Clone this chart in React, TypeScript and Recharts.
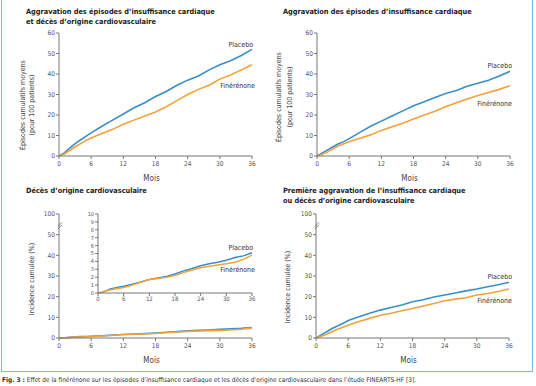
import React from "react";
import { LineChart, Line, XAxis, YAxis, ReferenceDot, LabelList } from "recharts";

const F = '"DejaVu Sans Condensed", "Liberation Sans Narrow", Roboto, sans-serif';
const BLUE = "#3a8ec8";
const ORANGE = "#f2a23a";
const AXIS = "#777";

// mois de suivi
const months = [0, 1, 2, 3, 4, 5, 6, 8, 10, 12, 14, 16, 18, 20, 22, 24, 26, 28, 30, 32, 34, 36];
const xTicks = [0, 6, 12, 18, 24, 30, 36];

// Aggravation des épisodes d'IC + décès CV (épisodes / 100 patients)
const combPlacebo = [0, 1.5, 3.8, 6, 7.8, 9.6, 11.3, 14.5, 17.5, 20.5, 23.5, 26, 29, 31.5, 34.5, 37, 39, 42, 44.5, 46.5, 49, 52];
const combFin = [0, 1, 2.8, 4.5, 6, 7.5, 8.8, 11, 13, 15.5, 17.5, 19.5, 21.5, 24, 27, 30, 32.5, 34.5, 37.5, 39.5, 42, 44.5];

// Aggravation des épisodes d'IC
const hfPlacebo = [0, 1.5, 3, 4.5, 6, 7, 8.5, 11.5, 14.5, 17, 19.5, 22, 24.5, 26.5, 28.5, 30.5, 32, 34, 35.5, 37, 39, 41.3];
const hfFin = [0, 0.8, 2, 3.5, 5, 6, 7, 8.7, 10.3, 12.5, 14.3, 16, 18, 20, 21.8, 24, 26, 27.8, 29.5, 31, 32.5, 34.3];

// Décès d'origine CV (%)
const cvPlacebo = [0, 0.1, 0.3, 0.55, 0.65, 0.75, 0.85, 1.1, 1.4, 1.7, 1.9, 2.1, 2.4, 2.8, 3.1, 3.45, 3.7, 3.9, 4.15, 4.5, 4.7, 5.1];
const cvFin = [0, 0.1, 0.25, 0.4, 0.5, 0.6, 0.7, 1.0, 1.35, 1.7, 1.85, 2.0, 2.2, 2.6, 2.9, 3.2, 3.4, 3.55, 3.7, 3.9, 4.25, 4.8];

// Première aggravation de l'IC ou décès CV (%)
const firstPlacebo = [0, 1.5, 3, 4.6, 5.8, 7, 8.5, 10.3, 12, 13.5, 14.8, 16, 17.5, 18.5, 19.8, 20.8, 21.8, 22.8, 23.7, 24.8, 25.8, 27];
const firstFin = [0, 0.8, 1.8, 3, 4.2, 5.2, 6.2, 8, 9.5, 11, 12, 13.2, 14.3, 15.5, 16.7, 18, 18.8, 19.5, 20.8, 21.5, 22.5, 23.7];

const ticks60 = [0, 10, 20, 30, 40, 50, 60];
const ticks10 = [0, 1, 2, 3, 4, 5, 6, 7, 8, 9, 10];

const rows = (p: number[], f: number[]) => months.map((m, i) => ({ m, placebo: p[i], fin: f[i] }));

const YTitle = (props: any) => {
  const { lines, xs, cy } = props;
  return (
    <g>
      {lines.map((l: string, i: number) => (
        <text
          key={i}
          x={xs[i]}
          y={cy}
          transform={`rotate(-90 ${xs[i]} ${cy})`}
          textAnchor="middle"
          dominantBaseline="middle"
          fill="#444"
          fontSize={7}
          fontFamily={F}
        >
          {l}
        </text>
      ))}
    </g>
  );
};

const XTitle = (props: any) => {
  const vb = props.viewBox || {};
  return (
    <text
      x={vb.x + vb.width / 2 - 4}
      y={vb.y + 22}
      textAnchor="middle"
      dominantBaseline="middle"
      fill="#444"
      fontSize={8}
      fontFamily={F}
    >
      Mois
    </text>
  );
};

const EndLabel = (text: string, last: number, dx: number, dy: number) => (props: any) => {
  if (props.index !== last) return null;
  return (
    <text
      x={props.x + dx}
      y={props.y + dy}
      textAnchor="end"
      dominantBaseline="middle"
      fill="#333"
      fontSize={7}
      fontFamily={F}
    >
      {text}
    </text>
  );
};

const BreakMark = (props: any) => {
  const { cx, cy } = props;
  return (
    <g stroke="#666" strokeWidth={0.8}>
      <line x1={cx - 1} y1={cy + 2} x2={cx + 3} y2={cy - 2} />
      <line x1={cx - 1} y1={cy + 4.5} x2={cx + 3} y2={cy + 0.5} />
    </g>
  );
};

const tickFmt100 = (v: number) => (v === 60 ? "100" : String(v));

type PanelProps = {
  left: number;
  top: number;
  height: number;
  data: { m: number; placebo: number; fin: number }[];
  yTitle: string[];
  yTitleXs: number[];
  yTitleY: number;
  broken?: boolean;
  labels?: number[];
};

const last = months.length - 1;

function Panel({ left, top, height, data, yTitle, yTitleXs, yTitleY, broken, labels }: PanelProps) {
  return (
    <div style={{ position: "absolute", left, top }}>
      <LineChart width={270} height={height} data={data} margin={{ top: 33, right: 18, bottom: 0, left: 0 }}>
        <XAxis
          dataKey="m"
          type="number"
          domain={[0, 36]}
          ticks={xTicks}
          height={34}
          tickSize={3}
          tickMargin={2}
          axisLine={{ stroke: AXIS }}
          tickLine={{ stroke: AXIS }}
          tick={{ fill: "#555", fontSize: 6.5, fontFamily: F }}
          label={<XTitle />}
        />
        <YAxis
          type="number"
          domain={[0, 60]}
          ticks={ticks60}
          width={59}
          interval={0}
          tickSize={3}
          tickMargin={1}
          tickFormatter={broken ? tickFmt100 : undefined}
          axisLine={{ stroke: AXIS }}
          tickLine={{ stroke: AXIS }}
          tick={{ fill: "#555", fontSize: 6.5, fontFamily: F }}
        />
        <Line type="linear" dataKey="placebo" stroke={BLUE} strokeWidth={1.6} dot={false} isAnimationActive={false}>
          {labels && <LabelList dataKey="placebo" content={EndLabel("Placebo", last, labels[0], labels[1])} />}
        </Line>
        <Line type="linear" dataKey="fin" stroke={ORANGE} strokeWidth={1.6} dot={false} isAnimationActive={false}>
          {labels && <LabelList dataKey="fin" content={EndLabel("Finérénone", last, labels[2], labels[3])} />}
        </Line>
        {broken && <ReferenceDot x={0} y={55} r={0} ifOverflow="visible" shape={<BreakMark />} />}
        <YTitle lines={yTitle} xs={yTitleXs} cy={yTitleY} />
      </LineChart>
    </div>
  );
}

function Inset({ data }: { data: { m: number; placebo: number; fin: number }[] }) {
  return (
    <div style={{ position: "absolute", left: 70, top: 206 }}>
      <LineChart width={200} height={101} data={data} margin={{ top: 8, right: 18, bottom: 0, left: 0 }}>
        <XAxis
          dataKey="m"
          type="number"
          domain={[0, 36]}
          ticks={xTicks}
          height={14}
          tickSize={3}
          tickMargin={1}
          axisLine={{ stroke: AXIS }}
          tickLine={{ stroke: AXIS }}
          tick={{ fill: "#555", fontSize: 6, fontFamily: F }}
        />
        <YAxis
          type="number"
          domain={[0, 10]}
          ticks={ticks10}
          interval={0}
          width={28}
          tickSize={3}
          tickMargin={1}
          axisLine={{ stroke: AXIS }}
          tickLine={{ stroke: AXIS }}
          tick={{ fill: "#555", fontSize: 5.5, fontFamily: F }}
        />
        <Line type="linear" dataKey="placebo" stroke={BLUE} strokeWidth={1.5} dot={false} isAnimationActive={false}>
          <LabelList dataKey="placebo" content={EndLabel("Placebo", last, 1, -5)} />
        </Line>
        <Line type="linear" dataKey="fin" stroke={ORANGE} strokeWidth={1.5} dot={false} isAnimationActive={false}>
          <LabelList dataKey="fin" content={EndLabel("Finérénone", last, 3, 15)} />
        </Line>
      </LineChart>
    </div>
  );
}

const titleStyle: React.CSSProperties = {
  position: "absolute",
  fontFamily: F,
  fontWeight: "bold",
  fontSize: 7.3,
  lineHeight: "10px",
  color: "#222",
  whiteSpace: "nowrap",
};

export default function App() {
  return (
    <div style={{ position: "fixed", left: 0, top: 0, width: 536, height: 386, overflow: "hidden", background: "#fff" }}>
      <div
        style={{
          position: "absolute",
          left: 1,
          top: -4,
          width: 532,
          height: 376,
          border: "1.5px solid #80b4e2",
          boxSizing: "border-box",
        }}
      />
      <div style={{ ...titleStyle, left: 26, top: 7 }}>
        Aggravation des épisodes d’insuffisance cardiaque
        <br />
        et décès d’origine cardiovasculaire
      </div>
      <div style={{ ...titleStyle, left: 283, top: 7 }}>Aggravation des épisodes d’insuffisance cardiaque</div>
      <div style={{ ...titleStyle, left: 26, top: 186 }}>Décès d’origine cardiovasculaire</div>
      <div style={{ ...titleStyle, left: 283, top: 186 }}>
        Première aggravation de l’insuffisance cardiaque
        <br />
        ou décès d’origine cardiovasculaire
      </div>

      <Panel
        left={0}
        top={0}
        height={190}
        data={rows(combPlacebo, combFin)}
        yTitle={["Épisodes cumulatifs moyens", "(pour 100 patients)"]}
        yTitleXs={[23, 32]}
        yTitleY={105}
        labels={[1, -4, 3, 21]}
      />
      <Panel
        left={258}
        top={0}
        height={190}
        data={rows(hfPlacebo, hfFin)}
        yTitle={["Épisodes cumulatifs moyens", "(pour 100 patients)"]}
        yTitleXs={[21, 32]}
        yTitleY={97}
        labels={[2, -5, 2, 18]}
      />
      <Panel
        left={0}
        top={181}
        height={191}
        data={rows(cvPlacebo, cvFin)}
        yTitle={["Incidence cumulée (%)"]}
        yTitleXs={[32]}
        yTitleY={98}
        broken
      />
      <Inset data={rows(cvPlacebo, cvFin)} />
      <Panel
        left={257}
        top={181}
        height={191}
        data={rows(firstPlacebo, firstFin)}
        yTitle={["Incidence cumulée (%)"]}
        yTitleXs={[31]}
        yTitleY={106}
        broken
        labels={[3, -5, 3, 12]}
      />

      <div
        style={{
          ...titleStyle,
          left: 2,
          top: 376,
          fontSize: 6.5,
          lineHeight: "9px",
          fontWeight: "normal",
          color: "#333",
        }}
      >
        <b>Fig. 3 :</b> Effet de la finérénone sur les épisodes d’insuffisance cardiaque et les décès d’origine
        cardiovasculaire dans l’étude FINEARTS-HF [3].
      </div>
    </div>
  );
}
